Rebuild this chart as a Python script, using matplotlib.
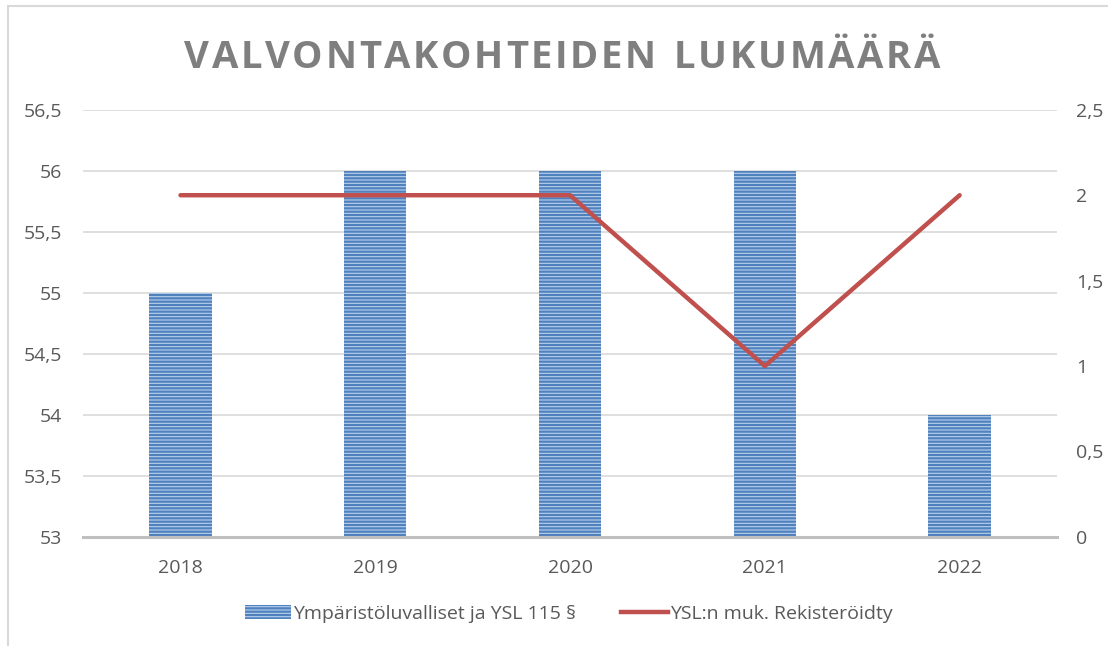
import matplotlib.pyplot as plt
import numpy as np
from matplotlib.ticker import FuncFormatter, MultipleLocator
from matplotlib.patches import Rectangle
from matplotlib.lines import Line2D

years = ["2018", "2019", "2020", "2021", "2022"]
luvalliset = [55, 56, 56, 56, 54]
rekisteroidyt = [2, 2, 2, 1, 2]
labels = ["Ympäristöluvalliset ja YSL 115 §", "YSL:n muk. Rekisteröidty"]
title = "VALVONTAKOHTEIDEN LUKUMÄÄRÄ"

plt.rcParams['font.family'] = ['Open Sans', 'DejaVu Sans']
plt.rcParams['hatch.linewidth'] = 1.6
plt.rcParams['hatch.color'] = '#4f81bd'

text_col = '#595959'
grid_col = '#d9d9d9'


def fi(v, pos):
    s = f"{v:g}"
    return s.replace('.', ',')


fig = plt.figure(figsize=(11.08, 6.46), dpi=100)
fig.patches.append(Rectangle((0.007, -0.01), 1.0, 1.0, transform=fig.transFigure,
                             fill=False, edgecolor=grid_col, linewidth=1.5))
ax = fig.add_axes([0.075, 0.169, 0.879, 0.661])
x = np.arange(len(years))

ax.bar(x, [v - 53 for v in luvalliset], bottom=53, width=0.32, color='#b9cfee',
       edgecolor='#4f81bd', hatch='-----', linewidth=0, zorder=2)
ax.set_ylim(53, 56.5)
ax.set_xlim(-0.5, len(years) - 0.5)
ax.yaxis.set_major_locator(MultipleLocator(0.5))
ax.yaxis.set_major_formatter(FuncFormatter(fi))
ax.grid(axis='y', color=grid_col, linewidth=1.2, zorder=0)
ax.set_axisbelow(True)
ax.set_xticks(x, years)

ax2 = ax.twinx()
ax2.plot(x, rekisteroidyt, color='#c0504d', linewidth=3.2, solid_capstyle='round', zorder=3)
ax2.set_ylim(0, 2.5)
ax2.yaxis.set_major_locator(MultipleLocator(0.5))
ax2.yaxis.set_major_formatter(FuncFormatter(fi))

for a in (ax, ax2):
    for s in a.spines.values():
        s.set_visible(False)
    a.tick_params(length=0, labelsize=14, colors=text_col)
ax.tick_params(axis='y', pad=15)
ax.tick_params(axis='x', pad=16)
ax2.tick_params(axis='y', pad=14)
ax.spines['bottom'].set_visible(True)
ax.spines['bottom'].set_color('#bfbfbf')
ax.spines['bottom'].set_linewidth(2.2)

# title with letter spacing, drawn char by char
renderer = fig.canvas.get_renderer()
chars = []
widths = []
for c in title:
    t = fig.text(0, 0, c if c != ' ' else 'I', fontsize=27.5, fontweight='bold', color='#7f7f7f',
                 va='baseline', ha='left')
    w = t.get_window_extent(renderer).width
    if c == ' ':
        t.set_text('')
    chars.append(t)
    widths.append(w)
x0, x1 = 184, 940
gap = (x1 - x0 - sum(widths)) / (len(title) - 1)
pos = x0
for t, w in zip(chars, widths):
    t.set_position((pos / 1108, 1 - 68 / 646))
    pos += w + gap

handles = [Rectangle((0, 0), 1, 1, facecolor='#b9cfee', edgecolor='#4f81bd', hatch='-----', linewidth=0),
           Line2D([0], [0], color='#c0504d', linewidth=3.2)]
fig.legend(handles, labels, loc='center', bbox_to_anchor=(0.513, 0.05), ncol=2, frameon=False,
           fontsize=14, labelcolor=text_col, handlelength=2.4, handletextpad=0.1, columnspacing=2.3)

fig.savefig('out.png', dpi=100)
